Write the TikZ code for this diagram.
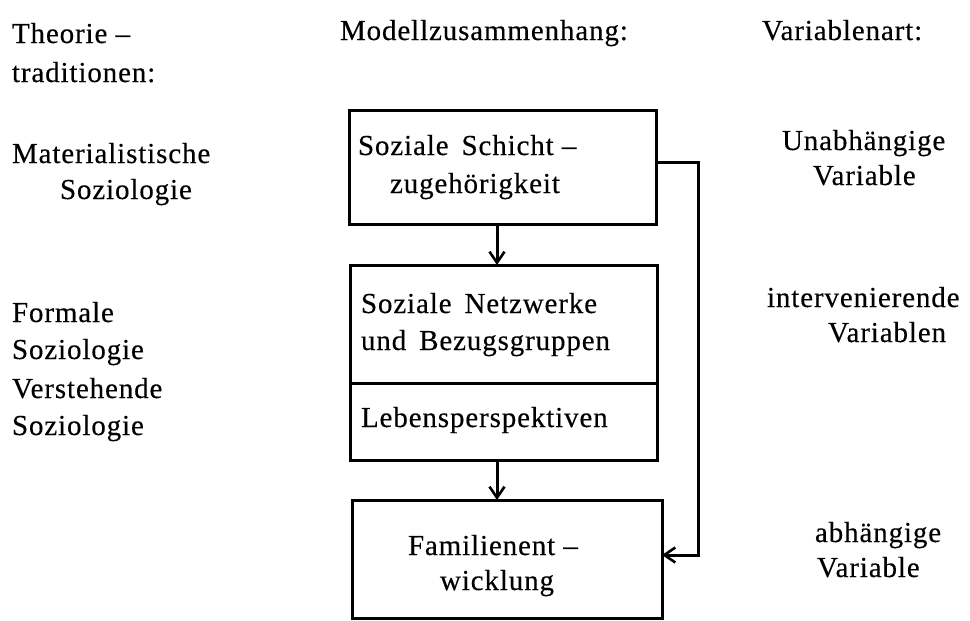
\documentclass[tikz,border=0pt]{standalone}
\usepackage{fontspec}
\setmainfont[LetterSpace=3,FakeBold=0.3]{Liberation Serif}
\usetikzlibrary{arrows.meta}

\begin{document}
\begin{tikzpicture}[x=1pt,y=-1pt,
    every node/.style={inner sep=0pt,outer sep=0pt,font=\fontsize{29}{35}\selectfont},
    lbl/.style={anchor=base west},
    modelbox/.style={draw,line width=3pt,rectangle,minimum width=307pt},
    arr/.style={line width=3pt,-{Straight Barb[length=11pt,width=15pt,line width=2.6pt]}}]

  \useasboundingbox[fill=white] (0,0) rectangle (970,621);

  % headers
  \node[lbl] (h1a) at (12,43)  {Theorie --};
  \node[lbl] (h1b) at (12,82)  {traditionen:};
  \node[lbl] (h2)  at (340,40) {Modellzusammenhang:};
  \node[lbl] (h3)  at (762,40) {Variablenart:};

  % theory traditions
  \node[lbl] (t1a) at (12,163) {Materialistische};
  \node[lbl] (t1b) at (60,199) {Soziologie};
  \node[lbl] (t2a) at (12,322) {Formale};
  \node[lbl] (t2b) at (12,359) {Soziologie};
  \node[lbl] (t3a) at (12,398) {Verstehende};
  \node[lbl] (t3b) at (12,435) {Soziologie};

  % model boxes
  \node[modelbox,minimum height=114pt] (box1) at (502.5,167) {};
  \node[modelbox,minimum height=195pt] (box2) at (503.5,362.5) {};
  \node[modelbox,minimum width=310pt,minimum height=118pt] (box3) at (507,559) {};
  \draw[line width=3pt] (box2.west |- 0,383) -- (box2.east |- 0,383);

  % box texts
  \node[lbl] (b1a) at (358,155) {Soziale\, Schicht --};
  \node[lbl] (b1b) at (390,193) {zugehörigkeit};
  \node[lbl] (b2a) at (361,313) {Soziale\, Netzwerke};
  \node[lbl] (b2b) at (361,350) {und\, Bezugsgruppen};
  \node[lbl] (b2c) at (361,427) {Lebensperspektiven};
  \node[lbl] (b3a) at (408,555) {Familienent --};
  \node[lbl] (b3b) at (440,590) {wicklung};

  % variable types
  \node[lbl] (v1a) at (782,150) {Unabhängige};
  \node[lbl] (v1b) at (813,185) {Variable};
  \node[lbl] (v2a) at (767,307) {intervenierende};
  \node[lbl] (v2b) at (828,342) {Variablen};
  \node[lbl] (v3a) at (815,542) {abhängige};
  \node[lbl] (v3b) at (817,577) {Variable};

  % connectors
  \draw[arr] ([xshift=-5.5pt]box1.south) -- ([xshift=-6.5pt]box2.north);
  \draw[arr] ([xshift=-6.5pt]box2.south) -- ([xshift=-10pt]box3.north);
  \draw[arr] ([yshift=5pt]box1.east) -- ++(42,0) |- ([yshift=4pt]box3.east);
\end{tikzpicture}
\end{document}
